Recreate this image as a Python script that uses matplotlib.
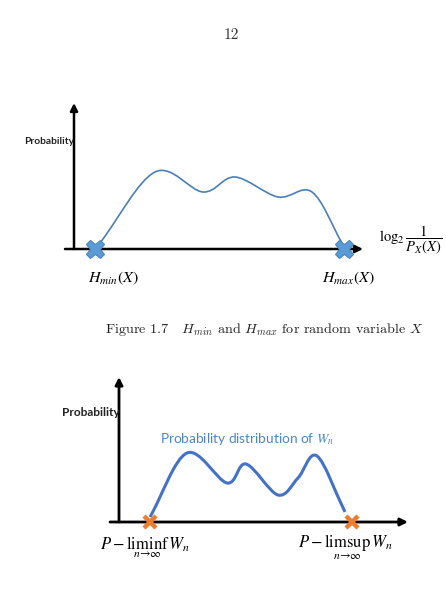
import numpy as np
import matplotlib
matplotlib.use("Agg")
import matplotlib.pyplot as plt
from matplotlib.path import Path
from matplotlib.patches import PathPatch

W, H = 446, 592

# ---------------- data ----------------
# Figure 1.7: H_min / H_max illustrative density (x: position along axis, y: probability height)
top_x = [26, 81, 129, 161, 204, 238, 268]
top_y = [6, 77, 57, 72, 52, 57, 6]
top_marks_x = [21, 270]          # H_min(X), H_max(X) on the axis
top_labels = [r"$H_{min}(X)$", r"$H_{max}(X)$"]

# Second figure: distribution of W_n
bot_x = [31, 68, 108, 127, 159, 179, 198, 226]
bot_y = [5, 69, 39, 58, 27, 44, 66, 10]
bot_marks_x = [31, 233]
bot_labels = [r"$P-\liminf_{n\to\infty}\,W_n$", r"$P-\limsup_{n\to\infty}\,W_n$"]

page_number = "12"
caption = r"Figure 1.7   $H_{min}$ and $H_{max}$ for random variable $X$"


def smooth_path(xs, ys):
    """Catmull-Rom spline through the points, expressed as cubic Bezier path."""
    p = np.column_stack([xs, ys]).astype(float)
    ext = np.vstack([2 * p[0] - p[1], p, 2 * p[-1] - p[-2]])
    verts = [tuple(p[0])]
    codes = [Path.MOVETO]
    for i in range(1, len(ext) - 2):
        p0, p1, p2, p3 = ext[i - 1], ext[i], ext[i + 1], ext[i + 2]
        c1 = p1 + (p2 - p0) / 6.0
        c2 = p2 - (p3 - p1) / 6.0
        verts += [tuple(c1), tuple(c2), tuple(p2)]
        codes += [Path.CURVE4] * 3
    return Path(verts, codes)


def px_axes(fig, left, right, top, bottom, ox, oy):
    ax = fig.add_axes([left / W, 1 - bottom / H, (right - left) / W, (bottom - top) / H])
    ax.set_xlim(left - ox, right - ox)
    ax.set_ylim(oy - bottom, oy - top)
    ax.axis("off")
    return ax


def ftext(fig, x, y, s, **kw):
    fig.text(x / W, 1 - y / H, s, **kw)


fig = plt.figure(figsize=(W / 100, H / 100), dpi=100)
fig.patch.set_facecolor("white")

# ---------- page number ----------
ftext(fig, 231, 35, page_number, family="cmr10", fontsize=11, ha="center", va="center", color="#333333")

# ---------- top diagram ----------
ax1 = px_axes(fig, 55, 372, 95, 262, 74, 249)
arrow = dict(arrowstyle="-|>", lw=1.8, color="black", mutation_scale=11, shrinkA=0, shrinkB=0)
ax1.annotate("", xy=(0, 146), xytext=(0, 0), arrowprops=arrow)
ax1.annotate("", xy=(289, 0), xytext=(-9, 0), arrowprops=arrow)
ax1.add_patch(PathPatch(smooth_path(top_x, top_y), fc="none", ec="#4a7fb8", lw=1.2))
ax1.plot(top_marks_x, [0] * len(top_marks_x), ls="none", marker="X", ms=13,
         mfc="#5b9bd5", mec="#4a86c0", mew=0.8, zorder=5)

ftext(fig, 49, 141, "Probability", family="Lato", weight="bold", fontsize=7.4,
      ha="center", va="center", color="#222222")
for xm, lab in zip([113, 348], top_labels):
    ftext(fig, xm, 278, lab, math_fontfamily="stix", fontsize=11.5, ha="center", va="center")
ftext(fig, 411, 240, r"$\log_2 \dfrac{1}{P_X(X)}$", math_fontfamily="stix", fontsize=10.5,
      ha="center", va="center")

ftext(fig, 264, 329, caption, family="cmr10", math_fontfamily="cm", fontsize=10.2,
      ha="center", va="center", color="#222222")

# ---------- bottom diagram ----------
ax2 = px_axes(fig, 100, 420, 365, 535, 119, 522)
arrow2 = dict(arrowstyle="-|>", lw=2.0, color="black", mutation_scale=11, shrinkA=0, shrinkB=0)
ax2.annotate("", xy=(0, 145), xytext=(0, 0), arrowprops=arrow2)
ax2.annotate("", xy=(289, 0), xytext=(-9, 0), arrowprops=arrow2)
ax2.add_patch(PathPatch(smooth_path(bot_x, bot_y), fc="none", ec="#4472c4", lw=2.2))
ax2.plot(bot_marks_x, [0] * len(bot_marks_x), ls="none", marker="x", ms=9,
         mec="#ed7d31", mew=3.2, zorder=5)

ftext(fig, 91, 413, "Probability", family="Lato", weight="bold", fontsize=8.6,
      ha="center", va="center", color="#222222")
ftext(fig, 160, 439, r"Probability distribution of $W_n$", family="Lato", math_fontfamily="stix",
      fontsize=9.8, ha="left", va="center", color="#4a86c8")
for xm, lab in zip([145, 345], bot_labels):
    ftext(fig, xm, 547, lab, math_fontfamily="stix", fontsize=12, ha="center", va="center")

fig.savefig("out.png", dpi=100, facecolor="white")
